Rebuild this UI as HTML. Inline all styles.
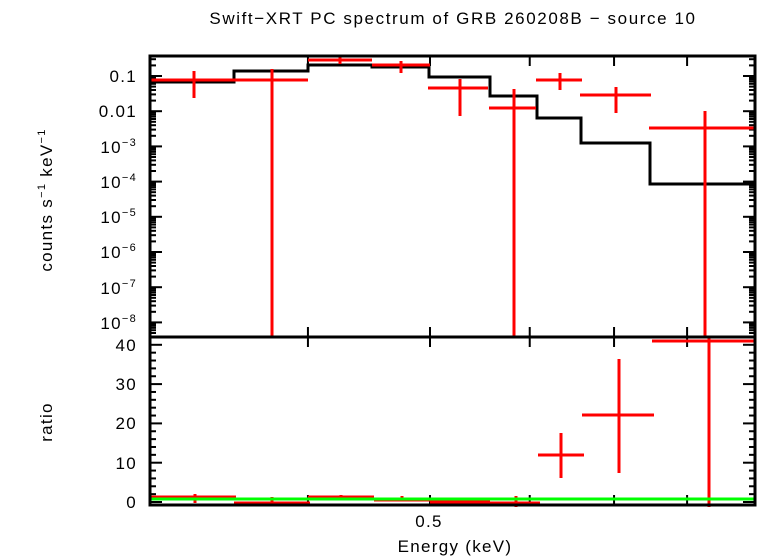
<!DOCTYPE html>
<html><head><meta charset="utf-8"><style>
html,body{margin:0;padding:0;background:#fff}
svg{display:block}
text{font-family:"Liberation Sans",sans-serif;fill:#000;letter-spacing:1.3px}
</style></head><body>
<svg id="s" width="758" height="556" viewBox="0 0 758 556" xmlns="http://www.w3.org/2000/svg">
<text x="453" y="24" font-size="17" text-anchor="middle" style="letter-spacing:1.6px">Swift−XRT PC spectrum of GRB 260208B − source 10</text>
<g font-size="17" text-anchor="end">
<text x="137" y="82">0.1</text>
<text x="137" y="117">0.01</text>
<text x="137" y="153">10<tspan font-size="11" dy="-7">−3</tspan></text>
<text x="137" y="188">10<tspan font-size="11" dy="-7">−4</tspan></text>
<text x="137" y="223">10<tspan font-size="11" dy="-7">−5</tspan></text>
<text x="137" y="258">10<tspan font-size="11" dy="-7">−6</tspan></text>
<text x="137" y="294">10<tspan font-size="11" dy="-7">−7</tspan></text>
<text x="137" y="329">10<tspan font-size="11" dy="-7">−8</tspan></text>
<text x="137" y="351">40</text>
<text x="137" y="390">30</text>
<text x="137" y="429">20</text>
<text x="137" y="469">10</text>
<text x="137" y="508">0</text>
</g>
<text x="429" y="527" font-size="17" text-anchor="middle">0.5</text>
<text x="455" y="552" font-size="17" text-anchor="middle">Energy (keV)</text>
<text transform="translate(52,200) rotate(-90)" font-size="17" text-anchor="middle">counts s<tspan font-size="11" dy="-7">−1</tspan><tspan dy="7"> keV</tspan><tspan font-size="11" dy="-7">−1</tspan></text>
<text transform="translate(52,422) rotate(-90)" font-size="17" text-anchor="middle">ratio</text>
<g id="ticks" stroke="#000" stroke-width="2"></g>
<polyline fill="none" stroke="#000" stroke-width="3" points="150,82 234,82 234,71 308,71 308,65 372,65 372,67 429,67 429,77 490,77 490,96 537,96 537,118 581,118 581,143 650,143 650,184 755,184"/>
<g stroke="#f00" stroke-width="3">
<line x1="150" y1="80" x2="234" y2="80"/><line x1="194" y1="71" x2="194" y2="98"/>
<line x1="234" y1="80" x2="308" y2="80"/><line x1="272" y1="69" x2="272" y2="337"/>
<line x1="308" y1="60" x2="372" y2="60"/><line x1="340" y1="55" x2="340" y2="64"/>
<line x1="372" y1="65" x2="430" y2="65"/><line x1="401" y1="61" x2="401" y2="73"/>
<line x1="428" y1="88" x2="488" y2="88"/><line x1="460" y1="79" x2="460" y2="116"/>
<line x1="489" y1="108" x2="536" y2="108"/><line x1="514" y1="89" x2="514" y2="337"/>
<line x1="536" y1="80" x2="582" y2="80"/><line x1="560" y1="73" x2="560" y2="90"/>
<line x1="580" y1="95" x2="651" y2="95"/><line x1="616" y1="87" x2="616" y2="113"/>
<line x1="649" y1="128" x2="755" y2="128"/><line x1="705" y1="111" x2="705" y2="337"/>
<line x1="150" y1="497" x2="236" y2="497"/><line x1="195" y1="494" x2="195" y2="503"/>
<line x1="234" y1="503" x2="310" y2="503"/><line x1="272" y1="497" x2="272" y2="505"/>
<line x1="308" y1="497" x2="374" y2="497"/><line x1="341" y1="495" x2="341" y2="499"/>
<line x1="374" y1="500" x2="430" y2="500"/><line x1="402" y1="496" x2="402" y2="501"/>
<line x1="430" y1="502" x2="490" y2="502"/><line x1="461" y1="500" x2="461" y2="505"/>
<line x1="490" y1="503" x2="540" y2="503"/><line x1="516" y1="496" x2="516" y2="507"/>
<line x1="538" y1="455" x2="584" y2="455"/><line x1="561" y1="433" x2="561" y2="478"/>
<line x1="582" y1="415" x2="654" y2="415"/><line x1="619" y1="359" x2="619" y2="473"/>
<line x1="652" y1="341" x2="755" y2="341"/><line x1="709" y1="338" x2="709" y2="507"/>
</g>
<line x1="150" y1="499" x2="755" y2="499" stroke="#0f0" stroke-width="3"/>
<g fill="none" stroke="#000" stroke-width="3">
<rect x="150" y="56" width="605" height="449"/>
<line x1="150" y1="337" x2="755" y2="337"/>
</g>
</svg>
<script>
var g=document.getElementById('ticks'),ns='http://www.w3.org/2000/svg';
function L(x1,y1,x2,y2){var l=document.createElementNS(ns,'line');l.setAttribute('x1',x1);l.setAttribute('y1',y1);l.setAttribute('x2',x2);l.setAttribute('y2',y2);g.appendChild(l);}
[0.4,0.5,0.6,0.7,0.8].forEach(function(e){var x=430+547*Math.log(e/0.5);
 L(x,56,x,66);L(x,337,x,327);L(x,337,x,347);L(x,505,x,495);});
for(var d=-9;d<=0;d++){for(var m=1;m<10;m++){var v=m*Math.pow(10,d);var y=76+35.2*(-1-Math.log10(v));
 if(y<57||y>336)continue;var len=(m==1)?12:6;L(150,y,150+len,y);L(755,y,755-len,y);}}
for(var v=0;v<=40;v+=2){var y=502-3.93*v;if(y<339)continue;var len=(v%10==0)?12:6;L(150,y,150+len,y);L(755,y,755-len,y);}
</script>
</body></html>
